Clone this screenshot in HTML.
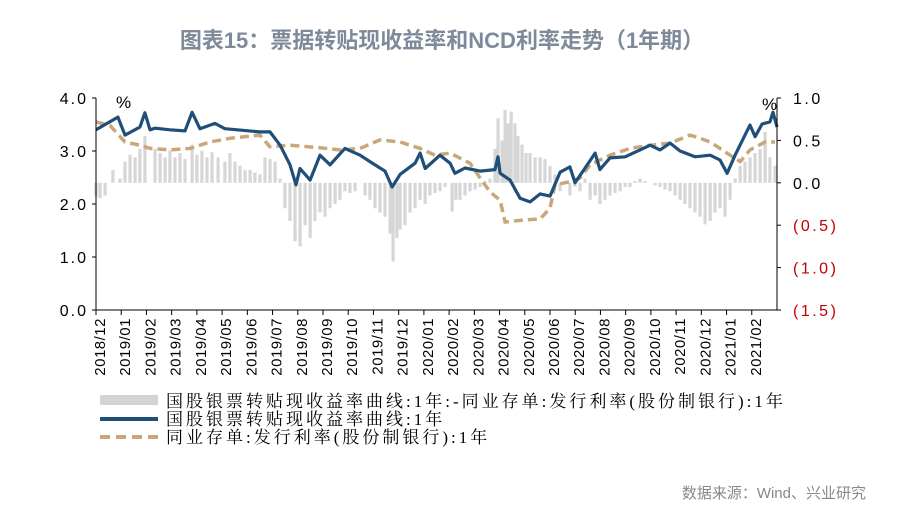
<!DOCTYPE html>
<html><head><meta charset="utf-8"><style>
body{margin:0;background:#fff;}
#wrap{position:relative;width:900px;height:524px;overflow:hidden;background:#fff;}
svg text{font-family:"Liberation Sans","Noto Sans CJK SC",sans-serif;}
</style></head><body>
<div id="wrap">
<svg id="chart" width="900" height="524" xmlns="http://www.w3.org/2000/svg">
<text x="442" y="48" text-anchor="middle" font-size="22" font-weight="bold" fill="#7e8a9a" style="font-family:'Liberation Sans','Noto Sans CJK SC',sans-serif">图表15：票据转贴现收益率和NCD利率走势（1年期）</text>
<g id="bars"></g>
<g id="lines"></g>
<g id="axes"></g>
<text x="116" y="108" font-size="17" fill="#000">%</text>
<text x="762" y="110" font-size="17" fill="#000">%</text>
<g font-size="17" letter-spacing="3">
<g><rect x="100" y="395" width="58" height="10" fill="#d4d4d4"/><text x="166" y="407" style="font-family:'Liberation Serif','Noto Serif CJK SC',serif">国股银票转贴现收益率曲线:1年:-同业存单:发行利率(股份制银行):1年</text></g>
<g><line x1="100" y1="419" x2="158" y2="419" stroke="#1f4e79" stroke-width="4"/><text x="166" y="425" style="font-family:'Liberation Serif','Noto Serif CJK SC',serif">国股银票转贴现收益率曲线:1年</text></g>
<g><line x1="100" y1="437" x2="158" y2="437" stroke="#c8a878" stroke-width="4" stroke-dasharray="10,6"/><text x="166" y="443" style="font-family:'Liberation Serif','Noto Serif CJK SC',serif">同业存单:发行利率(股份制银行):1年</text></g>
</g>
<text x="866" y="498" text-anchor="end" font-size="15" fill="#888" style="font-family:'Liberation Sans','Noto Sans CJK SC',sans-serif">数据来源：Wind、兴业研究</text>
</svg>
</div>
<script>
const monthLabels=["2018/12","2019/01","2019/02","2019/03","2019/04","2019/05","2019/06","2019/07","2019/08","2019/09","2019/10","2019/11","2019/12","2020/01","2020/02","2020/03","2020/04","2020/05","2020/06","2020/07","2020/08","2020/09","2020/10","2020/11","2020/12","2021/01","2021/02"];
const leftTicks=[0,1,2,3,4];
const leftTickLabels=["0.0","1.0","2.0","3.0","4.0"];
const rightTicks=[-1.5,-1,-0.5,0,0.5,1];
const rightTickLabels=["(1.5)","(1.0)","(0.5)","0.0","0.5","1.0"];
const billT=[0,0.87,1.15,1.74,1.94,2.14,2.34,2.93,3.53,3.81,4.12,4.72,5.11,6.5,6.9,7.3,7.69,7.93,8.09,8.49,8.88,9.28,9.87,10.47,10.86,11.46,11.74,12.06,12.65,12.85,13.05,13.64,14.04,14.23,14.63,15.23,15.82,15.94,16.02,16.42,16.81,17.21,17.61,18.0,18.4,18.79,18.99,19.39,19.79,19.98,20.38,20.98,21.57,21.97,22.36,22.76,23.16,23.75,24.35,24.74,25.02,25.34,25.73,25.93,26.13,26.41,26.72,26.84,27.0];
const billV=[3.40,3.64,3.30,3.45,3.72,3.40,3.43,3.40,3.38,3.73,3.42,3.52,3.42,3.36,3.36,3.11,2.74,2.36,2.67,2.45,2.92,2.74,3.05,2.92,2.80,2.62,2.32,2.56,2.77,2.96,2.67,2.92,2.77,2.58,2.68,2.62,2.65,2.89,2.58,2.45,2.11,2.04,2.19,2.15,2.60,2.70,2.40,2.68,2.96,2.65,2.87,2.89,3.02,3.11,3.02,3.15,3.00,2.89,2.92,2.83,2.58,2.92,3.30,3.49,3.27,3.51,3.55,3.73,3.45];
const ncdT=[0,0.56,1.15,1.74,2.14,2.93,3.73,4.52,5.31,6.5,6.9,7.69,8.88,9.67,10.47,11.26,12.06,12.85,13.44,14.04,14.83,15.23,15.62,16.02,16.22,16.81,17.61,18.0,18.2,18.79,19.19,19.59,20.38,21.17,21.97,22.76,23.55,23.95,24.35,24.74,25.14,25.54,25.93,26.53,26.92];
const ncdV=[3.55,3.48,3.17,3.11,3.05,3.02,3.05,3.17,3.24,3.30,3.08,3.11,3.06,3.02,3.05,3.21,3.17,3.05,2.92,2.96,2.77,2.49,2.23,2.07,1.66,1.69,1.72,1.92,2.36,2.42,2.49,2.74,2.92,3.05,3.11,3.15,3.30,3.24,3.17,3.05,2.92,2.80,3.02,3.17,3.17];
const spreadT=[0,0.16,0.36,0.56,0.67,0.95,1.15,1.35,1.55,1.74,1.94,2.14,2.34,2.54,2.74,2.93,3.13,3.33,3.53,3.81,4.0,4.2,4.4,4.6,4.84,5.11,5.31,5.51,5.71,5.91,6.11,6.3,6.5,6.7,6.9,7.1,7.3,7.49,7.69,7.89,8.09,8.29,8.49,8.68,8.88,9.08,9.28,9.48,9.67,9.87,10.07,10.27,10.47,10.67,10.86,11.06,11.26,11.46,11.66,11.78,11.93,12.06,12.25,12.45,12.65,12.85,13.05,13.24,13.44,13.64,13.84,14.12,14.27,14.43,14.63,14.83,15.03,15.23,15.42,15.62,15.82,15.94,16.1,16.22,16.34,16.46,16.61,16.73,16.89,17.05,17.21,17.41,17.61,17.8,18.0,18.2,18.4,18.6,18.79,18.99,19.19,19.39,19.59,19.79,19.98,20.18,20.38,20.58,20.78,20.98,21.17,21.37,21.57,21.77,21.97,22.17,22.36,22.56,22.76,22.96,23.16,23.35,23.55,23.75,23.95,24.15,24.35,24.54,24.74,24.94,25.14,25.34,25.54,25.73,25.93,26.13,26.33,26.53,26.72,26.92];
const spreadV=[-0.16,-0.18,-0.15,0.0,0.15,0.05,0.25,0.33,0.3,0.4,0.55,0,0.4,0.35,0.3,0.38,0.3,0.35,0.28,0.45,0.33,0.38,0.3,0.36,0.3,0.25,0.35,0.25,0.2,0.15,0.15,0.12,0.1,0.3,0.28,0.25,0.05,-0.3,-0.45,-0.69,-0.75,-0.5,-0.65,-0.45,-0.35,-0.4,-0.3,-0.25,-0.2,-0.1,-0.12,-0.1,0,-0.15,-0.2,-0.3,-0.35,-0.4,-0.6,-0.93,-0.65,-0.55,-0.5,-0.35,-0.3,-0.2,-0.25,-0.15,-0.12,-0.1,-0.05,-0.34,-0.2,-0.2,-0.15,-0.1,-0.08,-0.05,0.02,0.05,0.4,0.76,0.5,0.86,0.7,0.84,0.7,0.55,0.45,0.35,0.35,0.3,0.3,0.28,0.2,0.1,-0.1,0,-0.15,-0.05,-0.1,0.05,-0.2,-0.15,-0.25,-0.2,-0.15,-0.12,-0.1,-0.05,-0.05,0.02,0.05,0.02,0,-0.03,-0.05,-0.08,-0.1,-0.15,-0.2,-0.25,-0.3,-0.35,-0.4,-0.49,-0.45,-0.35,-0.3,-0.4,-0.2,0.05,0.2,0.25,0.3,0.35,0.4,0.6,0.3,0.2];

const X0=96,X1=777,YT=98,YB=310;
const xS=m=>X0+(X1-X0)*m/27;
const yL=v=>YB-(YB-YT)*v/4;
const yR=v=>YB-(YB-YT)*(v+1.5)/2.5;
const NS="http://www.w3.org/2000/svg";
function mk(tag,attrs,parent){const e=document.createElementNS(NS,tag);for(const k in attrs)e.setAttribute(k,attrs[k]);parent.appendChild(e);return e;}
const bars=document.getElementById('bars'),lines=document.getElementById('lines'),axes=document.getElementById('axes');
spreadT.forEach((t,i)=>{const y0=yR(0),y1=yR(spreadV[i]);
 const r=mk('rect',{x:xS(t)-1.6,y:Math.min(y0,y1),width:3.2,height:Math.abs(y1-y0),fill:'#d6d6d6'},bars);
 
 });
function path(ts,vs,f){return ts.map((t,i)=>(i?'L':'M')+xS(t).toFixed(1)+','+f(vs[i]).toFixed(1)).join(' ');}
const ncd=mk('path',{d:path(ncdT,ncdV,yL),fill:'none',stroke:'#c8a878','stroke-width':3.5,'stroke-dasharray':'9,5'},lines);


const bill=mk('path',{d:path(billT,billV,yL),fill:'none',stroke:'#1f4e79','stroke-width':3.2,'stroke-linejoin':'round'},lines);


mk('line',{x1:X0,y1:YT,x2:X0,y2:YB,stroke:'#000'},axes);
mk('line',{x1:X1,y1:YT,x2:X1,y2:YB,stroke:'#000'},axes);
mk('line',{x1:X0,y1:YB,x2:X1,y2:YB,stroke:'#000'},axes);
leftTicks.forEach((v,i)=>{mk('line',{x1:X0-4,y1:yL(v),x2:X0,y2:yL(v),stroke:'#000'},axes);
 const t=mk('text',{x:X0-8,y:yL(v)+6,'text-anchor':'end','font-size':16,'letter-spacing':'2'},axes);t.textContent=leftTickLabels[i];
 
 });
rightTicks.forEach((v,i)=>{mk('line',{x1:X1,y1:yR(v),x2:X1+4,y2:yR(v),stroke:'#000'},axes);
 const t=mk('text',{x:X1+16,y:yR(v)+6,'font-size':16,'letter-spacing':'2.5',fill:v<0?'#c00000':'#000'},axes);t.textContent=rightTickLabels[i];
 
 });
monthLabels.forEach((l,i)=>{const x=xS(i);mk('line',{x1:x,y1:YB,x2:x,y2:YB+5,stroke:'#000'},axes);
 const t=mk('text',{x:0,y:0,'text-anchor':'end','font-size':15,'letter-spacing':'0.5',transform:`translate(${x+9},${YB+8}) rotate(-90)`},axes);t.textContent=l;
 
 });
</script>
</body></html>
